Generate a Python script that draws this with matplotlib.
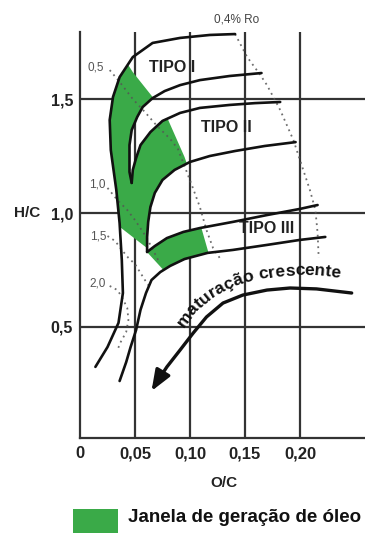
import numpy as np
import matplotlib
matplotlib.use("Agg")
import matplotlib.pyplot as plt
from matplotlib.patches import Polygon, Rectangle

plt.rcParams["font.family"] = ["Liberation Sans", "DejaVu Sans"]

# curvas de evolucao (O/C, H/C)
tipo1_sup = [(0.141, 1.785), (0.118, 1.781), (0.091, 1.768), (0.066, 1.746), (0.048, 1.684),
             (0.036, 1.596), (0.030, 1.509), (0.027, 1.408), (0.028, 1.276), (0.033, 1.101),
             (0.036, 0.956), (0.038, 0.794), (0.039, 0.649), (0.035, 0.518), (0.025, 0.412),
             (0.014, 0.325)]
tipo1_inf = [(0.165, 1.614), (0.136, 1.601), (0.109, 1.583), (0.091, 1.561), (0.077, 1.535),
             (0.066, 1.504), (0.057, 1.465), (0.052, 1.421), (0.047, 1.364), (0.045, 1.298),
             (0.045, 1.232), (0.045, 1.180), (0.047, 1.132)]
tipo2_sup = [(0.047, 1.132), (0.048, 1.189), (0.051, 1.241), (0.055, 1.298), (0.064, 1.355),
             (0.075, 1.404), (0.091, 1.439), (0.109, 1.461), (0.136, 1.474), (0.159, 1.482),
             (0.182, 1.487)]
tipo2_inf = [(0.196, 1.311), (0.168, 1.294), (0.141, 1.272), (0.118, 1.250), (0.100, 1.224),
             (0.086, 1.189), (0.075, 1.145), (0.068, 1.088), (0.064, 1.026), (0.062, 0.961),
             (0.061, 0.895), (0.061, 0.829)]
tipo3_sup = [(0.061, 0.829), (0.068, 0.855), (0.079, 0.890), (0.094, 0.917), (0.109, 0.934),
             (0.139, 0.961), (0.170, 0.991), (0.200, 1.018), (0.216, 1.035)]
tipo3_inf = [(0.223, 0.895), (0.200, 0.882), (0.170, 0.860), (0.139, 0.838), (0.116, 0.825),
             (0.095, 0.798), (0.082, 0.768), (0.073, 0.741), (0.065, 0.706), (0.060, 0.649),
             (0.055, 0.575), (0.051, 0.487), (0.046, 0.412), (0.042, 0.346), (0.036, 0.263)]

# linhas de isorreflectancia (Ro)
ro_04 = [(0.141, 1.785), (0.152, 1.684), (0.164, 1.605), (0.170, 1.561), (0.182, 1.452),
         (0.194, 1.320), (0.200, 1.232), (0.209, 1.101), (0.214, 1.013), (0.216, 0.912),
         (0.217, 0.803)]
ro_05 = [(0.027, 1.627), (0.036, 1.575), (0.048, 1.500), (0.059, 1.443), (0.070, 1.382),
         (0.082, 1.325), (0.089, 1.281), (0.095, 1.206), (0.102, 1.118), (0.109, 1.026),
         (0.115, 0.925), (0.121, 0.846), (0.127, 0.803)]
ro_10 = [(0.025, 1.110), (0.034, 1.057), (0.043, 1.013), (0.050, 0.969), (0.059, 0.904),
         (0.065, 0.851), (0.071, 0.794)]
ro_15 = [(0.025, 0.899), (0.032, 0.877), (0.038, 0.838), (0.044, 0.803), (0.050, 0.776),
         (0.055, 0.737), (0.059, 0.706), (0.064, 0.671)]
ro_20 = [(0.027, 0.680), (0.034, 0.662), (0.038, 0.632), (0.043, 0.583), (0.044, 0.531),
         (0.042, 0.478), (0.037, 0.434), (0.034, 0.399)]
ro_labels = ["0,5", "1,0", "1,5", "2,0"]
ro_label_pos = [(0.0145, 1.640), (0.0155, 1.127), (0.0164, 0.899), (0.0164, 0.689)]

# limites da janela de oleo
janela_12 = [(0.018, 1.759), (0.041, 1.671), (0.048, 1.618), (0.066, 1.509), (0.079, 1.421),
             (0.095, 1.246), (0.109, 1.057), (0.109, 0.794), (0.073, 0.803), (0.061, 0.846),
             (0.034, 0.947), (0.014, 1.022)]
janela_3 = [(0.055, 0.860), (0.107, 0.991), (0.120, 0.772), (0.080, 0.728)]

# seta de maturacao
seta = [(0.247, 0.649), (0.215, 0.667), (0.191, 0.671), (0.170, 0.662), (0.148, 0.640),
        (0.130, 0.605), (0.115, 0.544), (0.103, 0.474), (0.091, 0.399), (0.079, 0.325),
        (0.070, 0.259)]
seta_ponta = (0.065, 0.219)
texto_base = [(0.094, 0.495), (0.105, 0.566), (0.120, 0.627), (0.138, 0.675), (0.159, 0.706),
              (0.182, 0.724), (0.209, 0.728), (0.241, 0.715), (0.250, 0.708)]

xticks = [0, 0.05, 0.10, 0.15, 0.20]
xtick_labels = ["0", "0,05", "0,10", "0,15", "0,20"]
yticks = [0.5, 1.0, 1.5]
ytick_labels = ["0,5", "1,0", "1,5"]

verde = "#3aaa48"
preto = "#111111"


def xy(pts):
    a = np.array(pts)
    return a[:, 0], a[:, 1]


def texto_curvo(ax, texto, pts, size):
    fig = ax.figure
    fig.canvas.draw()
    r = fig.canvas.get_renderer()
    disp = ax.transData.transform(np.array(pts))
    seg = np.hypot(np.diff(disp[:, 0]), np.diff(disp[:, 1]))
    s = np.concatenate([[0], np.cumsum(seg)])

    def ponto(d):
        i = int(np.clip(np.searchsorted(s, d) - 1, 0, len(seg) - 1))
        f = (d - s[i]) / seg[i]
        return disp[i] + f * (disp[i + 1] - disp[i])

    pos = 0.0
    for ch in texto:
        if ch == " ":
            w = size * 0.3 * fig.dpi / 72
        else:
            t = ax.text(0, 0, ch, fontsize=size, fontweight="bold")
            w = t.get_window_extent(renderer=r).width
            t.remove()
        p0, p1 = ponto(pos), ponto(pos + w)
        ang = np.degrees(np.arctan2(p1[1] - p0[1], p1[0] - p0[0]))
        xd, yd = ax.transData.inverted().transform((p0 + p1) / 2)
        ax.text(xd, yd, ch, fontsize=size, fontweight="bold", color=preto,
                rotation=ang, rotation_mode="anchor", ha="center", va="baseline", zorder=6)
        pos += w


fig = plt.figure(figsize=(3.65, 5.34), dpi=100)
ax = fig.add_axes([80 / 365, 96 / 534, 285 / 365, 406 / 534])
ax.set_xlim(0, 0.2591)
ax.set_ylim(0.013, 1.794)

for s in ["top", "right"]:
    ax.spines[s].set_visible(False)
for s in ["left", "bottom"]:
    ax.spines[s].set_color("#333333")
    ax.spines[s].set_linewidth(1.6)

# grade
for v in xticks[1:]:
    ax.axvline(v, color="#333333", lw=1.6, zorder=1)
for h in yticks:
    ax.axhline(h, color="#333333", lw=1.6, zorder=1)

# janela de geracao de oleo (tipos I e II)
contorno = tipo1_sup[:12] + [tipo2_inf[-1]] + tipo2_inf[::-1] + tipo2_sup[::-1] + tipo1_inf[::-1]
faixa = Polygon(janela_12, closed=True, transform=ax.transData)
verde12 = Polygon(contorno, closed=True, facecolor=verde, edgecolor="none", zorder=2)
ax.add_patch(verde12)
verde12.set_clip_path(faixa)

# janela de geracao de oleo (tipo III)
contorno3 = tipo3_sup + tipo3_inf[:9]
faixa3 = Polygon(janela_3, closed=True, transform=ax.transData)
verde3 = Polygon(contorno3, closed=True, facecolor=verde, edgecolor="none", zorder=2)
ax.add_patch(verde3)
verde3.set_clip_path(faixa3)

# linhas de Ro
for linha in [ro_04, ro_05, ro_10, ro_15, ro_20]:
    x, y = xy(linha)
    ax.plot(x, y, color="#555555", lw=1.3, ls=(0, (1, 2.2)), alpha=0.85, zorder=3)
for txt, (x, y) in zip(ro_labels, ro_label_pos):
    ax.text(x, y, txt, fontsize=8.5, color="#555555", ha="center", va="center", zorder=5)
ax.text(0.1427, 1.851, "0,4% Ro", fontsize=8.5, color="#444444", ha="center", va="center",
        clip_on=False)

# curvas dos tipos
for curva in [tipo1_sup, tipo1_inf, tipo2_sup, tipo2_inf, tipo3_sup, tipo3_inf]:
    x, y = xy(curva)
    ax.plot(x, y, color=preto, lw=1.9, solid_joinstyle="round", solid_capstyle="round", zorder=4)

ax.text(0.0836, 1.640, "TIPO I", fontsize=11.5, fontweight="bold", color="#222222",
        ha="center", va="center", zorder=5)
ax.text(0.1327, 1.373, "TIPO II", fontsize=11.5, fontweight="bold", color="#222222",
        ha="center", va="center", zorder=5)
ax.text(0.170, 0.930, "TIPO III", fontsize=11.5, fontweight="bold", color="#222222",
        ha="center", va="center", zorder=5)

# seta
x, y = xy(seta)
ax.plot(x, y, color=preto, lw=2.4, solid_capstyle="round", zorder=4)
ax.annotate("", xy=seta_ponta, xytext=seta[-1],
            arrowprops=dict(arrowstyle="-|>,head_length=0.9,head_width=0.35",
                            mutation_scale=14, color=preto, lw=2.4, shrinkA=0, shrinkB=0),
            zorder=4)

# eixos
ax.set_xticks(xticks)
ax.set_xticklabels(xtick_labels, fontsize=12, fontweight="bold")
ax.set_yticks(yticks)
ax.set_yticklabels(ytick_labels, fontsize=11.5, fontweight="bold")
ax.tick_params(length=0, colors="#222222")
ax.tick_params(axis="x", pad=6)
ax.tick_params(axis="y", pad=5)
ax.text(-0.048, 1.0, "H/C", fontsize=11, fontweight="bold", color="#222222",
        ha="center", va="center", clip_on=False)
ax.text(0.131, -0.184, "O/C", fontsize=11, fontweight="bold", color="#222222",
        ha="center", va="center", clip_on=False)

texto_curvo(ax, "maturação crescente", texto_base, 12.5)

# legenda
fig.patches.append(Rectangle((73 / 365, 1 / 534), 45 / 365, 24 / 534, transform=fig.transFigure,
                             facecolor=verde, edgecolor="none"))
fig.text(128 / 365, 16 / 534, "Janela de geração de óleo", fontsize=13.5, fontweight="bold",
         color="#111111", ha="left", va="center")

fig.savefig("out.png", dpi=100)
